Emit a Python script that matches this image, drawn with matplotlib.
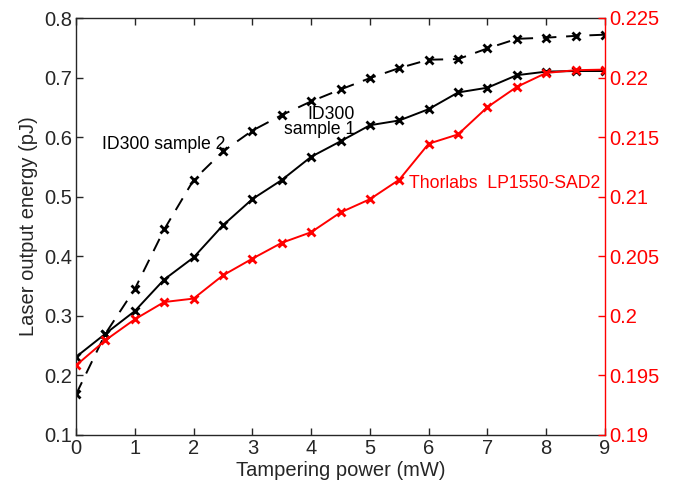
import matplotlib
matplotlib.use("Agg")
import matplotlib.pyplot as plt

plt.rcParams['font.family'] = ['Liberation Sans', 'DejaVu Sans']

power = [0, 0.5, 1, 1.5, 2, 2.5, 3, 3.5, 4, 4.5, 5, 5.5, 6, 6.5, 7, 7.5, 8, 8.5, 9]
id300_s1 = [0.231, 0.270, 0.308, 0.361, 0.398, 0.452, 0.496, 0.528, 0.567, 0.593,
            0.620, 0.628, 0.647, 0.675, 0.683, 0.704, 0.710, 0.711, 0.711]
id300_s2 = [0.168, 0.270, 0.345, 0.445, 0.528, 0.576, 0.611, 0.637, 0.660, 0.680,
            0.699, 0.716, 0.730, 0.731, 0.749, 0.765, 0.767, 0.770, 0.772]
thorlabs = [0.19584, 0.19795, 0.19971, 0.20116, 0.20145, 0.20340, 0.20480, 0.20613,
            0.20702, 0.20868, 0.20979, 0.21143, 0.21445, 0.21523, 0.21752, 0.21922,
            0.22039, 0.22062, 0.22067]

left_ticks = [0.1, 0.2, 0.3, 0.4, 0.5, 0.6, 0.7, 0.8]
left_ticklabels = ['0.1', '0.2', '0.3', '0.4', '0.5', '0.6', '0.7', '0.8']
right_ticks = [0.19, 0.195, 0.2, 0.205, 0.21, 0.215, 0.22, 0.225]
right_ticklabels = ['0.19', '0.195', '0.2', '0.205', '0.21', '0.215', '0.22', '0.225']
x_ticks = list(range(10))

dark = '#262626'
fs = 14.5
fs_ann = 12.7

fig = plt.figure(figsize=(6.83, 4.87), dpi=100)
ax = fig.add_axes([76/683, 52/487, 529/683, 417/487])

ax.plot(power, id300_s1, color='black', lw=1.4, marker='x', ms=5.5, mew=2)
ax.plot(power, id300_s2, color='black', lw=1.4, ls=(0, (7, 5)), marker='x', ms=5.5, mew=2)
ax.set_xlim(0, 9)
ax.set_ylim(0.1, 0.8)
ax.set_xticks(x_ticks)
ax.set_xticklabels([str(t) for t in x_ticks])
ax.set_yticks(left_ticks)
ax.set_yticklabels(left_ticklabels)
ax.tick_params(axis='both', direction='in', length=5, width=1, colors=dark, labelsize=fs,
               top=True, right=False, pad=3)
for s in ['left', 'bottom', 'top']:
    ax.spines[s].set_color(dark)
    ax.spines[s].set_linewidth(1.0)
ax.spines['right'].set_visible(False)
ax.set_xlabel('Tampering power (mW)', fontsize=fs, color=dark, labelpad=2)
ax.set_ylabel('Laser output energy (pJ)', fontsize=fs, color=dark, labelpad=4)

ax2 = ax.twinx()
ax2.plot(power, thorlabs, color='red', lw=1.4, marker='x', ms=5.5, mew=2)
ax2.set_ylim(0.19, 0.225)
ax2.set_yticks(right_ticks)
ax2.set_yticklabels(right_ticklabels)
ax2.tick_params(axis='y', direction='in', length=5, width=1, colors='red', labelsize=fs, pad=3)
ax2.spines['right'].set_color('red')
ax2.spines['right'].set_linewidth(1.0)
for s in ['left', 'bottom', 'top']:
    ax2.spines[s].set_visible(False)

ax.text(0.44, 0.5807, 'ID300 sample 2', fontsize=fs_ann, color='black', ha='left', va='baseline')
ax.text(4.75, 0.6059, 'ID300\nsample 1', fontsize=fs_ann, color='black', ha='right',
        va='baseline', multialignment='right', linespacing=0.85)
ax2.text(5.66, 0.21071, 'Thorlabs  LP1550-SAD2', fontsize=fs_ann, color='red', ha='left', va='baseline')

fig.savefig('out.png', dpi=100)
